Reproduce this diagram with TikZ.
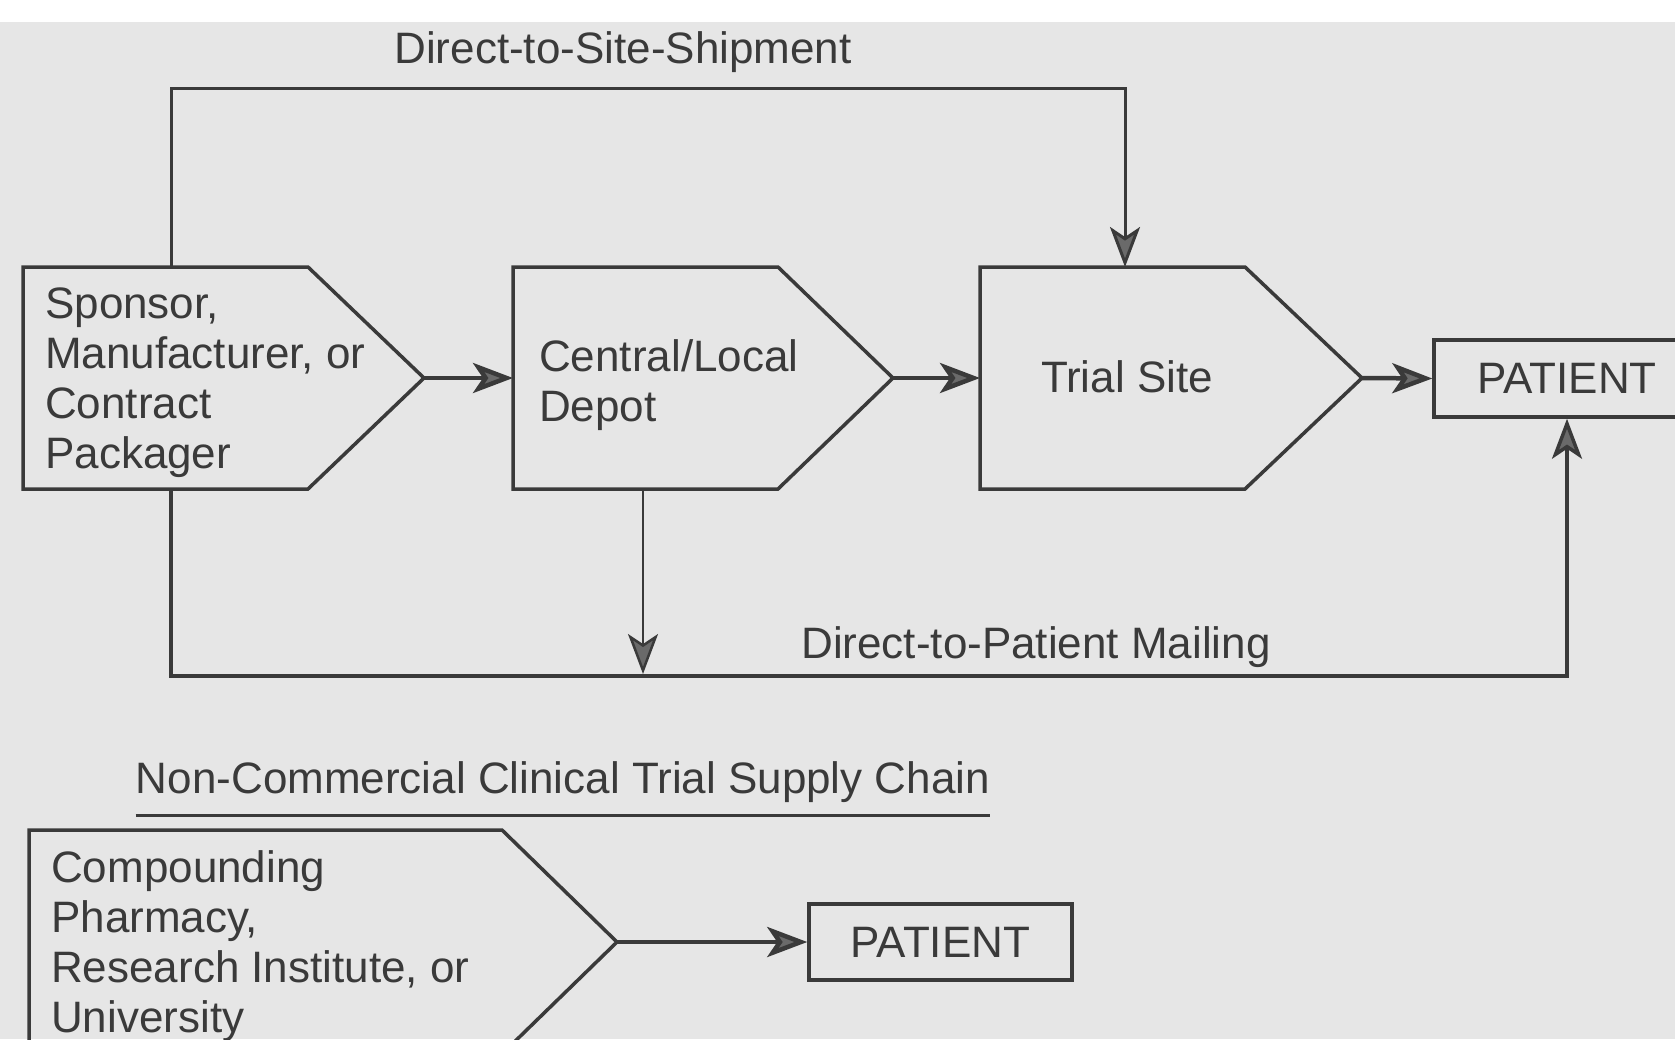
\documentclass[tikz,border=0pt]{standalone}
\usepackage{fontspec}
\setmainfont{Liberation Sans}
\usetikzlibrary{arrows.meta}
\definecolor{bg}{HTML}{E6E6E6}
\definecolor{ink}{HTML}{3A3A3A}
\definecolor{headfill}{HTML}{6A6A6A}
\tikzset{
  shapeline/.style={draw=ink, line width=3.5pt, line join=miter},
  conn/.style={draw=ink, line width=3pt},
  arr/.style={conn, -{Stealth[length=40pt,width=30pt,inset=10pt,fill=headfill]}},
  thickarr/.style={arr, line width=4.5pt},
  lbl/.style={inner sep=0pt, text=ink, font=\fontsize{44}{50}\selectfont},
  patbox/.style={lbl, draw=ink, line width=3.5pt}
}
\begin{document}
\begin{tikzpicture}[x=1pt,y=-1pt]
\useasboundingbox (0,0) rectangle (1675,1039);
\clip (0,0) rectangle (1675,1039);
\fill[white] (0,0) rectangle (1675,1039);
\fill[bg] (0,22) rectangle (1675,1039);

% helper coordinates for connector levels
\coordinate (dts) at (0,88);
\coordinate (dtp) at (0,676);
\coordinate (ul) at (0,815);

% Sponsor
\draw[shapeline] (23,267) -- (308,267) -- (424,378) -- (308,489) -- (23,489) -- cycle;
\coordinate (spTip) at (424,378);
\coordinate (spTop) at (171,267);
\coordinate (spBot) at (171,489);
\node[lbl, align=left, anchor=west] (sp) at (45,383) {Sponsor,\\Manufacturer, or\\Contract\\Packager};

% Central/Local Depot
\draw[shapeline] (513,267) -- (778,267) -- (893,378) -- (778,489) -- (513,489) -- cycle;
\coordinate (ctL) at (513,378);
\coordinate (ctTip) at (893,378);
\coordinate (ctBot) at (643,489);
\node[lbl, align=left, anchor=west] (ct) at (539,385) {Central/Local\\Depot};

% Trial Site
\draw[shapeline] (980,267) -- (1245,267) -- (1362,378) -- (1245,489) -- (980,489) -- cycle;
\coordinate (tsL) at (980,378);
\coordinate (tsTip) at (1362,378);
\coordinate (tsTop) at (1125,267);
\node[lbl] (ts) at (1127,377) {Trial Site};

% PATIENT (top)
\node[patbox, minimum width=266pt, minimum height=77pt] (pt) at (1567,378.5) {PATIENT};

% flow arrows
\draw[thickarr] (spTip) -- (ctL);
\draw[thickarr] (ctTip) -- (tsL);
\draw[thickarr] (tsTip) -- (pt.west);

% Direct-to-Site-Shipment
\draw[arr] (spTop) -- (spTop |- dts) -| (tsTop);
\node[lbl] (dtsl) at (623,52) {Direct-to-Site-Shipment};

% Direct-to-Patient Mailing
\draw[arr, line width=3.5pt] (spBot) -- (spBot |- dtp) -| (pt.south);
\draw[arr, line width=2.5pt, shorten >=2pt] (ctBot) -- (ctBot |- dtp);
\node[lbl] (dtpl) at (1036,647) {Direct-to-Patient Mailing};

% Non-commercial
\node[lbl] (title) at (563,782) {Non-Commercial Clinical Trial Supply Chain};
\draw[conn] (title.west |- ul) -- (title.east |- ul);

\draw[shapeline] (29,830) -- (502,830) -- (617,942) -- (502,1054) -- (29,1054) -- cycle;
\coordinate (cpTip) at (617,942);
\node[lbl, align=left, anchor=west] (cp) at (51,946) {Compounding\\Pharmacy,\\Research Institute, or\\University};
\node[patbox, minimum width=263pt, minimum height=76pt] (pt2) at (940.5,942) {PATIENT};
\draw[thickarr] (cpTip) -- (pt2.west);
\end{tikzpicture}
\end{document}
